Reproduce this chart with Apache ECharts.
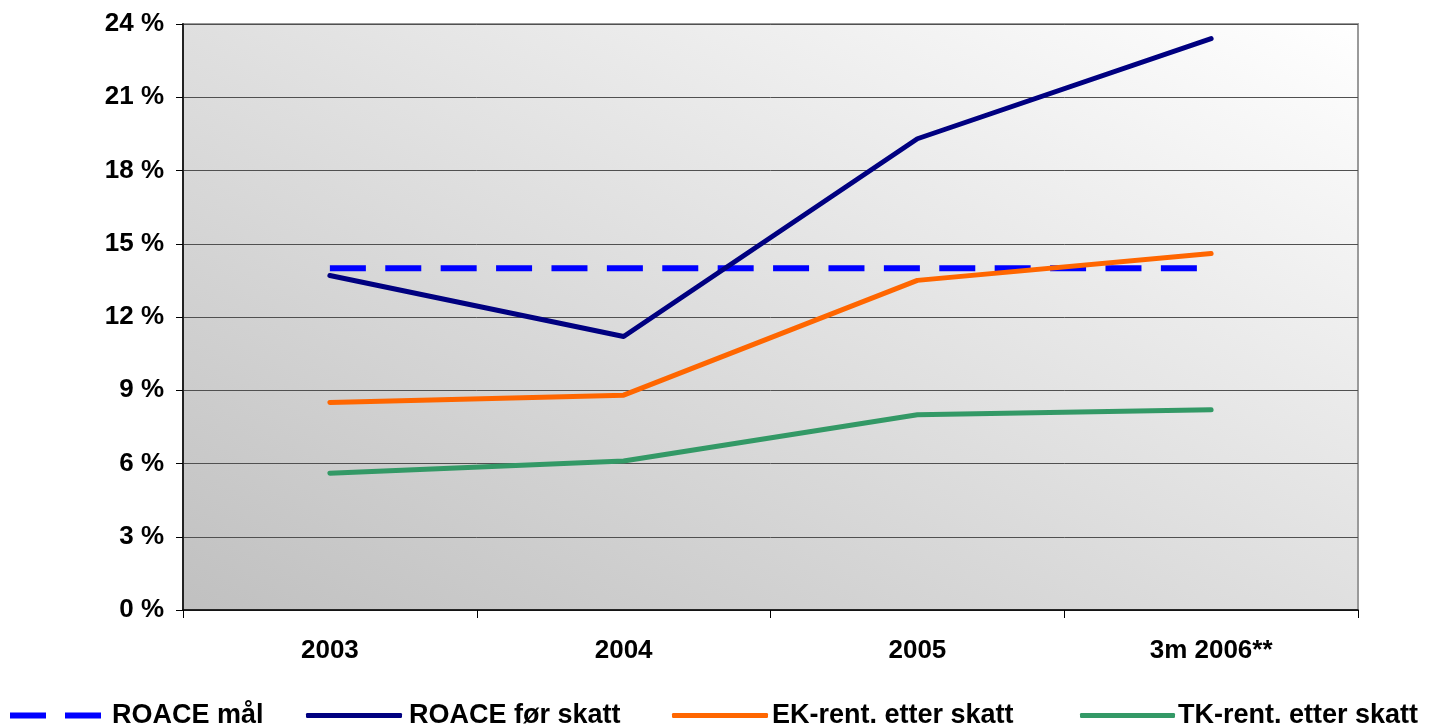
<!DOCTYPE html>
<html>
<head>
<meta charset="utf-8">
<script src="https://cdn.jsdelivr.net/npm/echarts@6/dist/echarts.min.js"></script>
<style>
html,body{margin:0;padding:0;background:#fff;}
#c{width:1451px;height:725px;}
</style>
</head>
<body>
<div id="c"></div>
<script>
const categories = ['2003', '2004', '2005', '3m 2006**'];
const roaceMaal = [14, 14, 14, 14];
const roaceFoerSkatt = [13.7, 11.2, 19.3, 23.4];
const ekRentEtterSkatt = [8.5, 8.8, 13.5, 14.6];
const tkRentEtterSkatt = [5.6, 6.1, 8.0, 8.2];
const seriesNames = ['ROACE mål', 'ROACE før skatt', 'EK-rent. etter skatt', 'TK-rent. etter skatt'];
const seriesColors = ['#0000ff', '#000080', '#ff6600', '#339966'];

const FONT = "'Liberation Sans', Arial, sans-serif";
const chart = echarts.init(document.getElementById('c'));

const solid = (i, data) => ({
  name: seriesNames[i], type: 'line', data, symbol: 'none', showSymbol: false,
  lineStyle: { color: seriesColors[i], width: 5, cap: 'round', join: 'round' },
  itemStyle: { color: seriesColors[i] }
});

// one legend per entry so every entry sits where the reference has it
const legendSpec = [
  { left: 10, w: 91, icon: 'path://M0,0H36V6H0Z M55,0H91V6H55Z', h: 6, pad: 6 },
  { left: 306, w: 96, icon: 'roundRect', h: 5, pad: 2 },
  { left: 672, w: 96, icon: 'roundRect', h: 5, pad: -1 },
  { left: 1080, w: 95, icon: 'roundRect', h: 5, pad: -2 }
];
const legends = legendSpec.map((s, i) => ({
  left: s.left, top: 702, width: 2000, padding: 0,
  itemWidth: s.w, itemHeight: s.h, symbolKeepAspect: false,
  itemStyle: { borderWidth: 0 },
  textStyle: { fontFamily: FONT, fontWeight: 'bold', fontSize: 27, color: '#000', padding: [0, 0, 0, s.pad] },
  data: [{ name: seriesNames[i], icon: s.icon }]
}));

chart.setOption({
  animation: false,
  grid: {
    left: 183, right: 93, top: 24, bottom: 115,
    show: true,
    borderColor: '#9a9a9a', borderWidth: 2,
    backgroundColor: new echarts.graphic.LinearGradient(0.301, 1.301, 0.699, -0.301, [
      { offset: 0, color: '#c0c0c0' },
      { offset: 1, color: '#ffffff' }
    ])
  },
  legend: legends,
  xAxis: {
    type: 'category', data: categories, boundaryGap: true,
    axisLine: { show: true, lineStyle: { color: '#000', width: 1.5 } },
    axisTick: { show: true, length: 8, interval: 0, lineStyle: { color: '#000', width: 1 } },
    axisLabel: { fontFamily: FONT, fontWeight: 'bold', fontSize: 26, color: '#000', margin: 28, interval: 0 },
    splitLine: { show: false }
  },
  yAxis: {
    type: 'value', min: 0, max: 24, interval: 3,
    axisLine: { show: true, lineStyle: { color: '#222', width: 2 } },
    axisTick: { show: true, length: 7, lineStyle: { color: '#000', width: 1 } },
    axisLabel: { fontFamily: FONT, fontWeight: 'bold', fontSize: 26, color: '#000', margin: 19, formatter: '{value} %' },
    splitLine: { show: true, lineStyle: { color: '#505050', width: 1 } }
  },
  series: [
    {
      name: seriesNames[0], type: 'line', data: roaceMaal, symbol: 'none', showSymbol: false,
      lineStyle: { color: seriesColors[0], width: 6, type: [36, 19.4], cap: 'butt' },
      itemStyle: { color: seriesColors[0] }
    },
    solid(1, roaceFoerSkatt),
    solid(2, ekRentEtterSkatt),
    solid(3, tkRentEtterSkatt)
  ]
});
</script>
</body>
</html>
